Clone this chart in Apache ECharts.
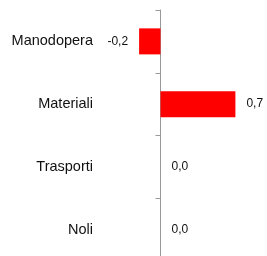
<!DOCTYPE html>
<html>
<head>
<meta charset="utf-8">
<script src="https://cdn.jsdelivr.net/npm/echarts@6/dist/echarts.min.js"></script>
<style>html,body{margin:0;padding:0;background:#fff}#c{width:267px;height:256px}</style>
</head>
<body>
<div id="c"></div>
<script>
const categories = ['Manodopera', 'Materiali', 'Trasporti', 'Noli'];
const values = [-0.2, 0.7, 0.0, 0.0];

const chart = echarts.init(document.getElementById('c'), null, {renderer: 'canvas'});
chart.setOption({
  animation: false,
  grid: {left: 107, top: 10, width: 149.8, height: 251, containLabel: false, outerBoundsMode: 'none'},
  xAxis: {
    type: 'value', min: -0.5, max: 0.9,
    show: false, splitLine: {show: false}
  },
  yAxis: {
    type: 'category', inverse: true, data: categories,
    axisLine: {show: true, onZero: true, lineStyle: {color: '#999', width: 1}},
    axisTick: {show: true, length: 5, lineStyle: {color: '#999'}},
    axisLabel: {margin: 14, color: '#111', fontSize: 14.5, fontFamily: 'Liberation Sans'},
    splitLine: {show: false}
  },
  series: [{
    type: 'bar',
    barWidth: 26,
    itemStyle: {color: '#ff0000'},
    data: values.map(v => ({
      value: v,
      label: {position: v < 0 ? 'left' : 'right'}
    })),
    label: {
      show: true, distance: 11, color: '#111', fontSize: 12, fontFamily: 'Liberation Sans',
      formatter: p => p.value.toFixed(1).replace('.', ',')
    }
  }]
});
</script>
</body>
</html>
